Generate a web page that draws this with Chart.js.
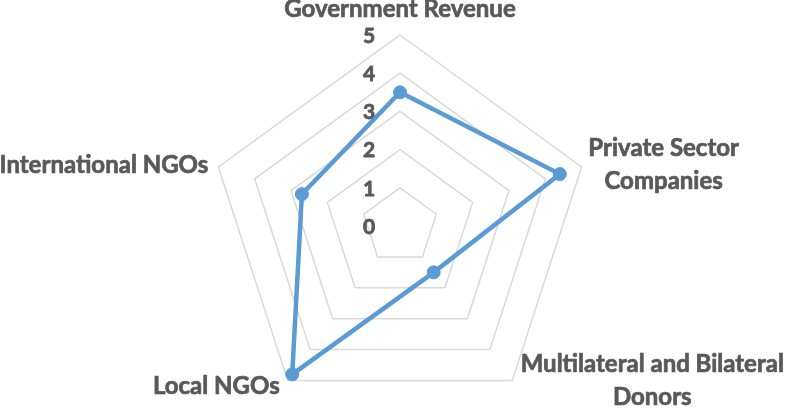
<!DOCTYPE html>
<html>
<head>
<meta charset="utf-8">
<script src="https://cdn.jsdelivr.net/npm/chart.js@4.4.0/dist/chart.umd.min.js"></script>
<style>
html,body{margin:0;padding:0;background:#fff;}
#wrap{width:787px;height:417px;position:relative;}
</style>
</head>
<body>
<div id="wrap"><canvas id="c" width="787" height="417"></canvas></div>
<script>
const categories = [
  'Government Revenue',
  ['Private Sector', 'Companies'],
  ['Multilateral and Bilateral', 'Donors'],
  'Local NGOs',
  'International NGOs'
];
const seriesValues = [3.5, 4.4, 1.5, 4.8, 2.7];
const tickLabels = ['0', '1', '2', '3', '4', '5'];

const TEXT = '#595959';
const FONT = 'Lato, "Open Sans", sans-serif';

// label placement relative to outer vertex: [dx, dy, align]
const labelPlace = [
  {dx: 0, dy: -26, align: 'center'},
  {dx: 82, dy: -19, align: 'center'},
  {dx: 140, dy: -16, align: 'center'},
  {dx: -8, dy: 6, align: 'right'},
  {dx: -10, dy: -2, align: 'right'}
];

const labelPlugin = {
  id: 'customLabels',
  afterDraw(chart) {
    const s = chart.scales.r;
    const ctx = chart.ctx;
    ctx.save();
    ctx.fillStyle = TEXT;
    ctx.strokeStyle = TEXT;
    ctx.lineJoin = 'round';
    // tick labels
    ctx.font = 'bold 21px ' + FONT;
    ctx.lineWidth = 0.8;
    ctx.textAlign = 'center';
    ctx.textBaseline = 'middle';
    tickLabels.forEach((t, i) => {
      const d = s.getDistanceFromCenterForValue(Number(t));
      const y = s.yCenter - d + 1;
      ctx.fillText(t, s.xCenter - 31, y);
      ctx.strokeText(t, s.xCenter - 31, y);
    });
    // point labels
    ctx.font = 'bold 24px ' + FONT;
    ctx.lineWidth = 0.7;
    const lh = 33;
    categories.forEach((lab, i) => {
      const p = s.getPointPositionForValue(i, 5);
      const pl = labelPlace[i];
      const lines = Array.isArray(lab) ? lab : [lab];
      ctx.textAlign = pl.align;
      lines.forEach((ln, k) => {
        const x = p.x + pl.dx, y = p.y + pl.dy + k * lh;
        ctx.fillText(ln, x, y);
        ctx.strokeText(ln, x, y);
      });
    });
    ctx.restore();
  }
};

new Chart(document.getElementById('c'), {
  type: 'radar',
  data: {
    labels: categories,
    datasets: [{
      data: seriesValues,
      borderColor: '#5b9bd5',
      backgroundColor: 'rgba(0,0,0,0)',
      borderWidth: 4.5,
      pointBackgroundColor: '#5b9bd5',
      pointBorderColor: '#5b9bd5',
      pointBorderWidth: 1,
      pointRadius: 6.5,
      fill: false,
      tension: 0
    }]
  },
  options: {
    responsive: false,
    animation: false,
    layout: {padding: {top: 35, bottom: -6, left: 206, right: 193}},
    plugins: {legend: {display: false}, tooltip: {enabled: false}},
    scales: {
      r: {
        min: 0,
        max: 5,
        ticks: {display: false, stepSize: 1},
        grid: {color: '#d9d9d9', lineWidth: 1.5},
        angleLines: {display: false},
        pointLabels: {display: false}
      }
    }
  },
  plugins: [labelPlugin]
});
</script>
</body>
</html>
